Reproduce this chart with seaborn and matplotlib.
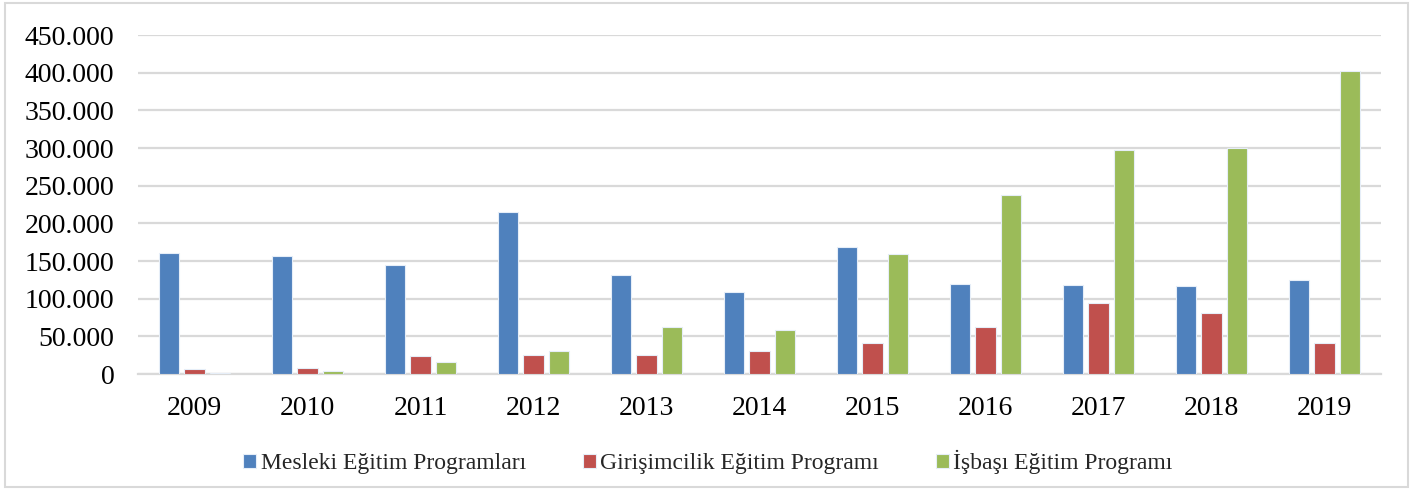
import matplotlib
matplotlib.use("Agg")
import matplotlib.pyplot as plt
import seaborn as sns
import pandas as pd
from matplotlib.patches import Rectangle
from matplotlib.ticker import FuncFormatter, MultipleLocator

years = ["2009", "2010", "2011", "2012", "2013", "2014", "2015", "2016", "2017", "2018", "2019"]
mesleki = [160000, 156000, 145000, 215000, 131000, 109000, 169000, 119000, 118000, 117000, 125000]
girisimcilik = [6000, 8000, 24000, 25000, 25000, 31000, 41000, 63000, 94000, 81000, 41000]
isbasi = [1000, 4000, 16000, 31000, 63000, 59000, 159000, 238000, 297000, 300000, 402000]
series_names = ["Mesleki Eğitim Programları", "Girişimcilik Eğitim Programı", "İşbaşı Eğitim Programı"]
colors = ["#4F81BD", "#C0504D", "#9BBB59"]

df = pd.DataFrame({
    "Yıl": years * 3,
    "Değer": mesleki + girisimcilik + isbasi,
    "Program": [series_names[0]] * len(years) + [series_names[1]] * len(years) + [series_names[2]] * len(years),
})

sns.set_theme(style="white")
plt.rcParams["font.family"] = ["Liberation Serif", "DejaVu Serif"]

fig = plt.figure(figsize=(14.27, 4.9), dpi=100)
ax = fig.add_axes([138 / 1427, 1 - 374 / 490, (1381 - 138) / 1427, (374 - 35) / 490])

sns.barplot(data=df, x="Yıl", y="Değer", hue="Program", palette=colors, saturation=1,
            width=0.68, gap=0.2, ax=ax, edgecolor="#e6eef8", linewidth=0.8,
            errorbar=None, zorder=3)

ax.set_ylim(0, 450000)
ax.yaxis.set_major_locator(MultipleLocator(50000))
ax.yaxis.set_major_formatter(FuncFormatter(lambda v, p: "0" if v == 0 else f"{int(v):,}".replace(",", ".")))
ax.set_xlim(-0.5, len(years) - 0.5)
ax.grid(axis="y", color="#d9d9d9", linewidth=1.6, zorder=0)
ax.set_axisbelow(True)
for s in ["top", "right", "left"]:
    ax.spines[s].set_visible(False)
ax.spines["bottom"].set_color("#d9d9d9")
ax.spines["bottom"].set_linewidth(1.6)
ax.set_xlabel("")
ax.set_ylabel("")
ax.tick_params(axis="both", length=0, labelsize=20, colors="black")
ax.tick_params(axis="y", pad=17)
ax.tick_params(axis="x", pad=16)

handles, labels = ax.get_legend_handles_labels()
ax.legend_.remove()
fig.legend(handles, labels, loc="center", bbox_to_anchor=(708 / 1427, 1 - 462 / 490),
           ncol=3, frameon=False, fontsize=17, handlelength=0.55, handleheight=0.55,
           handletextpad=0.2, columnspacing=2.4, borderpad=0, borderaxespad=0)

fig.patches.append(Rectangle((5 / 1427, 3 / 490), (1408 - 5) / 1427, (487 - 3) / 490,
                             transform=fig.transFigure, fill=False, edgecolor="#d9d9d9", linewidth=1.5))

fig.savefig("out.png", dpi=100, facecolor="white")
